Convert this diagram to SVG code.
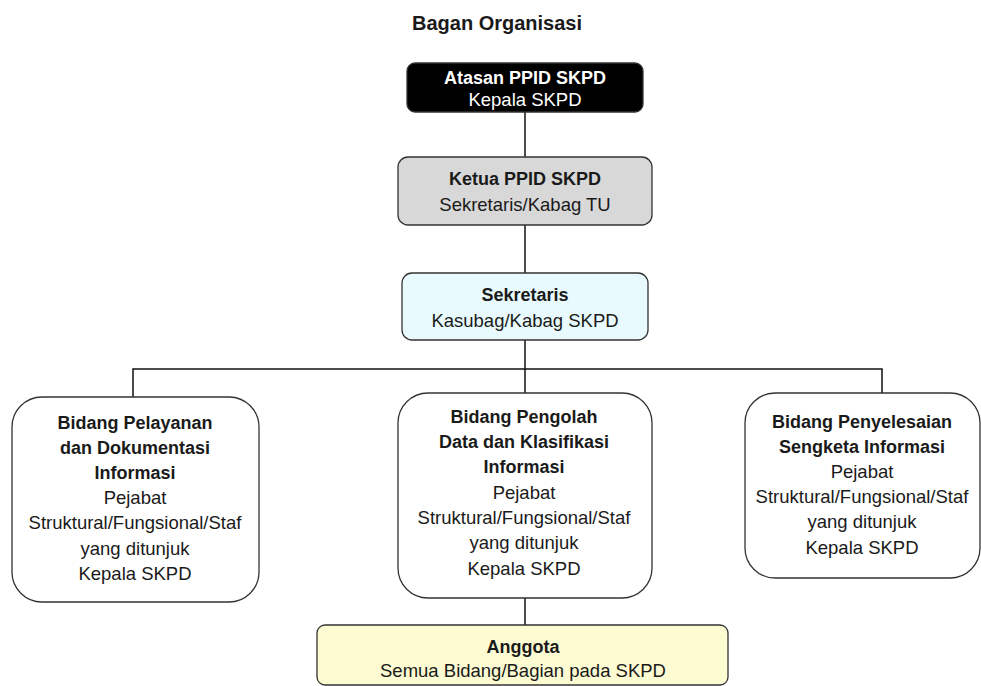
<svg xmlns="http://www.w3.org/2000/svg" width="981" height="686" viewBox="0 0 981 686">
<style>
.t{font-family:"Liberation Sans",Arial,sans-serif;font-size:18.5px;fill:#1a1a1a;text-anchor:middle}
.b{font-weight:bold;font-size:18px}
.w{fill:#ffffff}
.box{stroke:#333333;stroke-width:1.3}
.ln{stroke:#111111;stroke-width:1.5;fill:none}
</style>
<rect width="981" height="686" fill="#ffffff"/>
<text x="497" y="30" class="t b" style="font-size:20px">Bagan Organisasi</text>
<g id="connectors">
<line class="ln" x1="525" y1="112" x2="525" y2="157"/>
<line class="ln" x1="525" y1="225" x2="525" y2="273"/>
<line class="ln" x1="525" y1="340" x2="525" y2="393"/>
<polyline class="ln" points="133,397 133,369 882,369 882,393"/>
<line class="ln" x1="525" y1="598" x2="525" y2="625"/>
</g>
<g id="atasan">
<rect class="box" x="407" y="63" width="236" height="49" rx="8" fill="#000000"/>
<text x="525" y="84" class="t b w">Atasan PPID SKPD</text>
<text x="525" y="106" class="t w">Kepala SKPD</text>
</g>
<g id="ketua">
<rect class="box" x="398" y="157" width="254" height="68" rx="10" fill="#d8d8d8"/>
<text x="525" y="185" class="t b">Ketua PPID SKPD</text>
<text x="525" y="211" class="t">Sekretaris/Kabag TU</text>
</g>
<g id="sekretaris">
<rect class="box" x="402" y="273" width="246" height="67" rx="10" fill="#e8fafd"/>
<text x="525" y="301" class="t b">Sekretaris</text>
<text x="525" y="327" class="t">Kasubag/Kabag SKPD</text>
</g>
<g id="bidang-pelayanan">
<rect class="box" x="12" y="397" width="247" height="205" rx="30" fill="#ffffff"/>
<text x="135" y="429" class="t b">Bidang Pelayanan</text>
<text x="135" y="454" class="t b">dan Dokumentasi</text>
<text x="135" y="479" class="t b">Informasi</text>
<text x="135" y="504" class="t">Pejabat</text>
<text x="135" y="529" class="t">Struktural/Fungsional/Staf</text>
<text x="135" y="555" class="t">yang ditunjuk</text>
<text x="135" y="580" class="t">Kepala SKPD</text>
</g>
<g id="bidang-pengolah">
<rect class="box" x="398" y="393" width="254" height="205" rx="30" fill="#ffffff"/>
<text x="524" y="423" class="t b">Bidang Pengolah</text>
<text x="524" y="448" class="t b">Data dan Klasifikasi</text>
<text x="524" y="473" class="t b">Informasi</text>
<text x="524" y="499" class="t">Pejabat</text>
<text x="524" y="524" class="t">Struktural/Fungsional/Staf</text>
<text x="524" y="549" class="t">yang ditunjuk</text>
<text x="524" y="575" class="t">Kepala SKPD</text>
</g>
<g id="bidang-penyelesaian">
<rect class="box" x="745" y="393" width="235" height="185" rx="30" fill="#ffffff"/>
<text x="862" y="428" class="t b">Bidang Penyelesaian</text>
<text x="862" y="453" class="t b">Sengketa Informasi</text>
<text x="862" y="478" class="t">Pejabat</text>
<text x="862" y="503" class="t">Struktural/Fungsional/Staf</text>
<text x="862" y="528" class="t">yang ditunjuk</text>
<text x="862" y="554" class="t">Kepala SKPD</text>
</g>
<g id="anggota">
<rect class="box" x="317" y="625" width="411" height="60" rx="8" fill="#fdfbd2"/>
<text x="523" y="653" class="t b">Anggota</text>
<text x="523" y="677" class="t">Semua Bidang/Bagian pada SKPD</text>
</g>
</svg>
